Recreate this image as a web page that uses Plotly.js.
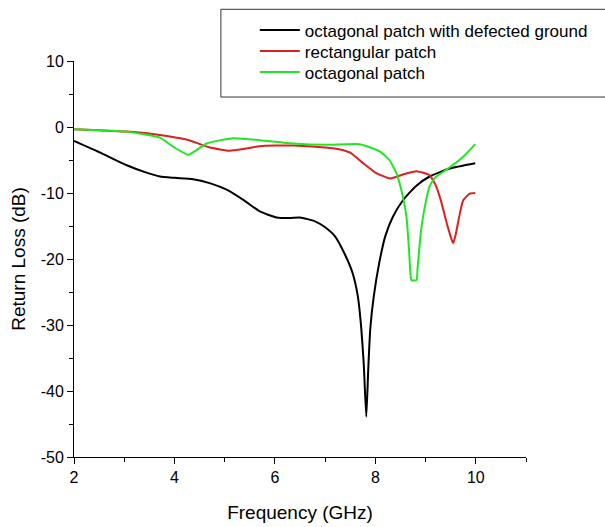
<!DOCTYPE html>
<html><head><meta charset="utf-8">
<script src="https://cdn.plot.ly/plotly-3.0.1.min.js"></script>
<style>html,body{margin:0;padding:0;background:#fff}#plot{width:605px;height:527px}</style>
</head><body><div id="plot"></div>
<script>
const seriesNames = ["octagonal patch with defected ground", "rectangular patch", "octagonal patch"];

const dgsFreq = [2.0, 2.5, 3.05, 3.4, 3.71, 4.0, 4.37, 4.7, 5.04, 5.4, 5.7, 6.03, 6.3, 6.5, 6.8, 7.0, 7.2, 7.4, 7.55, 7.65, 7.72, 7.77, 7.82, 7.86, 7.9, 7.97, 8.08, 8.2, 8.35, 8.55, 8.8, 9.08, 9.48, 9.99];
const dgsRL   = [-2.1, -3.8, -5.8, -6.8, -7.5, -7.7, -7.9, -8.5, -9.5, -11.2, -12.8, -13.7, -13.8, -13.7, -14.3, -15.2, -16.6, -19.4, -22.2, -25.6, -30.5, -36.0, -43.9, -36.5, -30.5, -25.6, -20.5, -16.5, -13.6, -11.1, -9.0, -7.5, -6.3, -5.5];

const rectFreq = [2.0, 2.5, 3.05, 3.71, 4.24, 4.71, 5.1, 5.4, 5.7, 6.36, 7.0, 7.3, 7.5, 7.76, 8.0, 8.29, 8.55, 8.82, 9.08, 9.2, 9.3, 9.42, 9.5, 9.55, 9.6, 9.68, 9.75, 9.88, 9.99];
const rectRL   = [-0.35, -0.5, -0.7, -1.2, -1.9, -3.1, -3.6, -3.3, -2.9, -2.8, -3.1, -3.4, -3.9, -5.5, -6.9, -7.8, -7.2, -6.7, -7.3, -8.8, -11.0, -14.5, -16.6, -17.6, -16.3, -13.2, -11.1, -10.1, -10.0];

const octFreq = [2.0, 2.5, 3.05, 3.71, 3.98, 4.28, 4.64, 5.17, 5.7, 6.36, 7.03, 7.69, 8.09, 8.28, 8.42, 8.5, 8.56, 8.62, 8.67, 8.7, 8.72, 8.82, 8.84, 8.88, 8.92, 9.0, 9.08, 9.2, 9.41, 9.75, 9.99];
const octRL   = [-0.35, -0.5, -0.7, -1.6, -3.0, -4.2, -2.5, -1.7, -2.0, -2.5, -2.7, -2.6, -3.7, -5.0, -7.0, -9.0, -11.0, -13.6, -18.5, -22.3, -23.2, -23.2, -21.5, -18.0, -15.1, -11.5, -9.0, -7.6, -6.5, -4.5, -2.6];

const xTicks = [2, 4, 6, 8, 10];
const yTicks = [-50, -40, -30, -20, -10, 0, 10];

const FAM = "Liberation Sans, Arial, sans-serif";
const tickFont = {family: FAM, size: 16, color: "#000"};
const titleFont = {family: FAM, size: 19, color: "#000"};
const legFont = {family: FAM, size: 17, color: "#000"};

const traces = [
  {x: dgsFreq, y: dgsRL, name: seriesNames[0], legend: "legend", mode: "lines", line: {color: "#000000", width: 2, shape: "spline", smoothing: 0.5}},
  {x: rectFreq, y: rectRL, name: seriesNames[1], legend: "legend2", mode: "lines", line: {color: "#dd1f1f", width: 2, shape: "spline", smoothing: 0.5}},
  {x: octFreq, y: octRL, name: seriesNames[2], legend: "legend3", mode: "lines", line: {color: "#22e622", width: 2, shape: "spline", smoothing: 0.5}}
];

function leg(yc) {
  return {x: 0.4, y: yc, xanchor: "left", yanchor: "middle", bgcolor: "rgba(0,0,0,0)", borderwidth: 0, font: legFont, itemwidth: 40};
}

const layout = {
  width: 605, height: 527,
  margin: {l: 74, r: 79, t: 61, b: 70},
  paper_bgcolor: "#fff", plot_bgcolor: "#fff",
  font: tickFont,
  showlegend: true,
  legend: leg(1.077),
  legend2: leg(1.024),
  legend3: leg(0.971),
  shapes: [{type: "rect", xref: "paper", yref: "paper", x0: 0.325, x1: 1.2, y0: 0.909, y1: 1.1306, line: {color: "#333", width: 1}, fillcolor: "rgba(0,0,0,0)", layer: "below"}],
  xaxis: {
    range: [2, 11], tickvals: xTicks, ticktext: xTicks.map(String),
    showgrid: false, zeroline: false, showline: true, linecolor: "#000", linewidth: 1,
    ticks: "outside", ticklen: 6, tickcolor: "#000",
    minor: {dtick: 1, tick0: 2, ticks: "outside", ticklen: 4, tickcolor: "#000", showgrid: false},
    tickfont: tickFont,
    title: {text: "Frequency (GHz)", font: titleFont, standoff: 20}
  },
  yaxis: {
    range: [-50, 10], tickvals: yTicks, ticktext: yTicks.map(String),
    showgrid: false, zeroline: false, showline: true, linecolor: "#000", linewidth: 1,
    ticks: "outside", ticklen: 6, tickcolor: "#000",
    minor: {dtick: 5, tick0: 0, ticks: "outside", ticklen: 4, tickcolor: "#000", showgrid: false},
    tickfont: tickFont,
    title: {text: "Return Loss (dB)", font: titleFont, standoff: 10}
  }
};

Plotly.newPlot("plot", traces, layout, {displayModeBar: false, staticPlot: true});
</script></body></html>
